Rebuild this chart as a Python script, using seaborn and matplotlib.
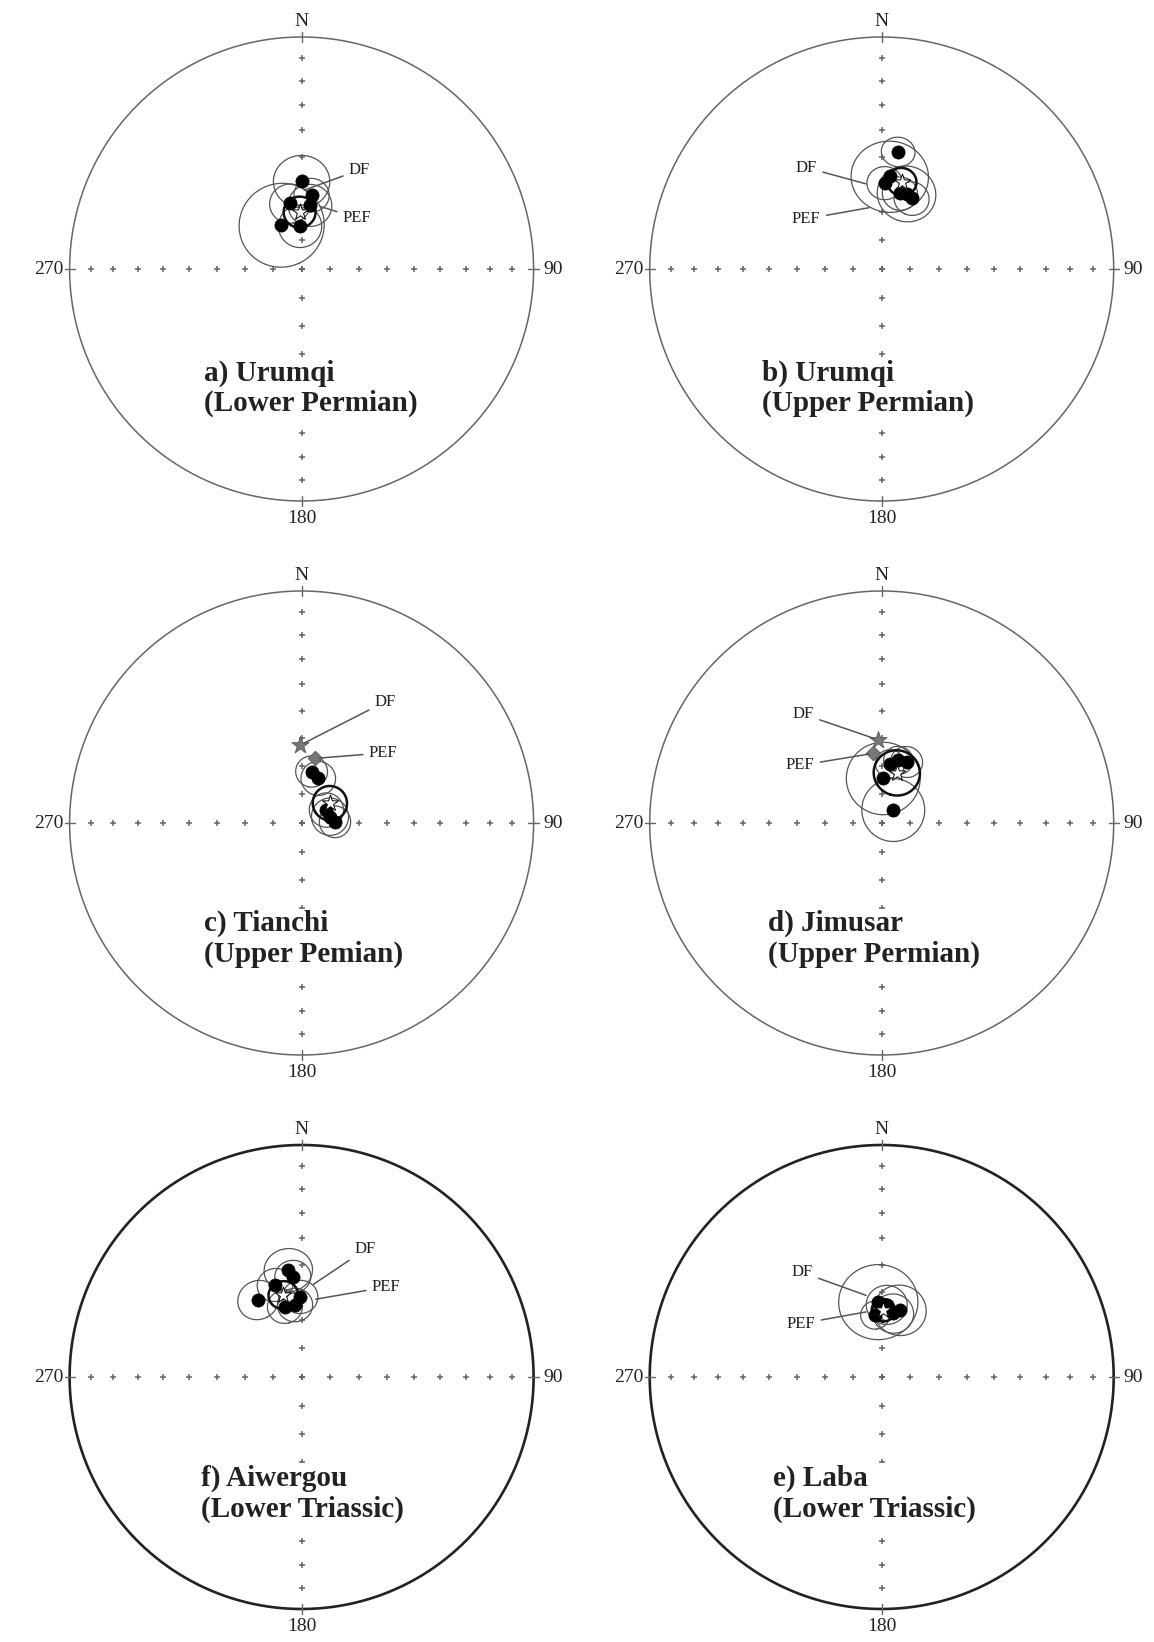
import numpy as np
import pandas as pd
import matplotlib
matplotlib.use('Agg')
import matplotlib.pyplot as plt
import seaborn as sns

# site means per locality: declination, inclination, a95 (degrees)
a_dec = [0, 335.5, 358, 350, 7.5, 7.7]
a_inc = [59, 73, 75, 66.6, 67.4, 63.7]
a_a95 = [9.5, 14.8, 7.5, 7, 7.5, 6]
a_mean = [358, 70, 5.5]
a_df = [359, 62.7]
a_pef = [13, 67]

b_dec = [8, 5, 13.6, 23, 18.3, 2]
b_inc = [47.7, 57, 62.6, 63, 62, 59.6]
b_a95 = [5.5, 13, 6, 6, 10, 6]
b_mean = [12.9, 58.3, 5]
b_df = [352, 60]
b_pef = [352, 68]

c_dec = [11, 20.5, 62.5, 77.5, 88]
c_inc = [71.6, 73.3, 80.2, 79.8, 78.3]
c_a95 = [5.5, 6, 6, 6.5, 5.5]
c_mean = [55, 77.9, 6]
c_df = [359, 62.5]
c_pef = [11.7, 66.8]

d_dec = [14.8, 22.2, 8, 2, 41.7]
d_inc = [67.2, 66.8, 69, 74.3, 83.9]
d_a95 = [5, 5.5, 5, 12.8, 11]
d_mean = [16.8, 71.6, 8]
d_df = [357.6, 60.6]
d_pef = [353, 65.3]

f_dec = [330.6, 352.9, 355, 343.9, 346.7, 354.8, 359]
f_inc = [58.7, 51.6, 54.2, 56, 64.5, 64.5, 61.7]
f_a95 = [7, 8, 6, 6, 6, 6, 6]
f_mean = [347.4, 60.3, 5]
f_df = [5.3, 57.9]
f_pef = [7.4, 62.6]

e_dec = [357.4, 4, 15.3, 10.3, 354]
e_inc = [63.4, 64.5, 65.6, 67.3, 68.1]
e_a95 = [13.5, 7, 9, 7, 5]
e_mean = [1.4, 66.5, 4]
e_df = [351.7, 61.4]
e_pef = [350, 66.5]

titles = ['a) Urumqi\n(Lower Permian)', 'b) Urumqi\n(Upper Permian)',
          'c) Tianchi\n(Upper Pemian)', 'd) Jimusar\n(Upper Permian)',
          'f) Aiwergou\n(Lower Triassic)', 'e) Laba\n(Lower Triassic)']


def proj(dec, inc):
    dec = np.radians(np.asarray(dec, float))
    inc = np.radians(np.asarray(inc, float))
    r = np.sqrt(2) * np.sin((np.pi / 2 - inc) / 2)
    return r * np.sin(dec), r * np.cos(dec)


def small_circle(dec, inc, a95, n=160):
    D, I = np.radians(dec), np.radians(inc)
    v = np.array([np.cos(I) * np.cos(D), np.cos(I) * np.sin(D), np.sin(I)])
    u1 = np.array([-np.sin(I) * np.cos(D), -np.sin(I) * np.sin(D), np.cos(I)])
    u2 = np.cross(v, u1)
    t = np.linspace(0, 2 * np.pi, n)
    a = np.radians(a95)
    p = np.cos(a) * v[:, None] + np.sin(a) * (np.cos(t) * u1[:, None] + np.sin(t) * u2[:, None])
    dd = np.degrees(np.arctan2(p[1], p[0]))
    ii = np.degrees(np.arcsin(np.clip(p[2], -1, 1)))
    return proj(dd, ii)


panels = [
    (a_dec, a_inc, a_a95, a_mean, a_df, a_pef),
    (b_dec, b_inc, b_a95, b_mean, b_df, b_pef),
    (c_dec, c_inc, c_a95, c_mean, c_df, c_pef),
    (d_dec, d_inc, d_a95, d_mean, d_df, d_pef),
    (f_dec, f_inc, f_a95, f_mean, f_df, f_pef),
    (e_dec, e_inc, e_a95, e_mean, e_df, e_pef),
]

# layout (pixels in the 1154x1642 figure)
W, H = 1154, 1642
R = 232.0
L = 1.2
centers = [(301.6, 269), (881.7, 269), (301.6, 823), (881.7, 823), (301.6, 1377), (881.7, 1377)]
df_xy = [(0.25, 0.427), (-0.325, 0.437), (0.361, 0.523), (-0.338, 0.469), (0.275, 0.55), (-0.343, 0.451)]
pef_xy = [(0.24, 0.22), (-0.325, 0.216), (0.352, 0.302), (-0.352, 0.248), (0.365, 0.388), (-0.348, 0.23)]
title_xy = [(-0.42, -0.515), (-0.514, -0.515), (-0.42, -0.5), (-0.49, -0.5), (-0.434, -0.503), (-0.469, -0.503)]
# DF / PEF symbols show clearly only in c) and d)
show_refs = [False, False, True, True, False, False]

sns.set_theme(style='white')
plt.rcParams['font.family'] = ['Liberation Serif', 'DejaVu Serif']

fig = plt.figure(figsize=(W / 100, H / 100), dpi=100)

tick_inc = np.arange(10, 91, 10)

for k, (dec, inc, a95, mean, dfp, pefp) in enumerate(panels):
    cx, cy = centers[k]
    size = 2 * L * R
    ax = fig.add_axes([(cx - size / 2) / W, (H - cy - size / 2) / H, size / W, size / H])
    ax.set_xlim(-L, L)
    ax.set_ylim(-L, L)
    ax.set_aspect('equal')
    ax.axis('off')

    bottom = k >= 4
    th = np.linspace(0, 2 * np.pi, 400)
    ax.plot(np.cos(th), np.sin(th), color='#222222' if bottom else '#666666',
            lw=1.9 if bottom else 1.1, zorder=1)

    # crosses along the axes
    tx, ty = [], []
    for az in (0, 90, 180, 270):
        x, y = proj(np.full(len(tick_inc), az), tick_inc)
        tx.extend(x)
        ty.extend(y)
    sns.scatterplot(x=tx, y=ty, marker='+', s=14, color='#666666', linewidth=1.1, ax=ax, zorder=1)
    for az in (0, 90, 180, 270):
        x0, y0 = proj([az, az], [2.5, -2.5])
        ax.plot(x0, y0, color='#666666', lw=1.0, zorder=1)

    ax.text(0, 1.065, 'N', ha='center', va='center', fontsize=14, color='#222222')
    ax.text(0, -1.075, '180', ha='center', va='center', fontsize=14, color='#222222')
    ax.text(-1.09, 0, '270', ha='center', va='center', fontsize=14, color='#222222')
    ax.text(1.085, 0, '90', ha='center', va='center', fontsize=14, color='#222222')

    # confidence circles
    for d, i, a in zip(dec, inc, a95):
        x, y = small_circle(d, i, a)
        ax.plot(x, y, color='#555555', lw=0.9, zorder=2)
    mx, my = small_circle(mean[0], mean[1], mean[2])
    ax.plot(mx, my, color='#111111', lw=1.8, zorder=3)

    sx, sy = proj(dec, inc)
    sites = pd.DataFrame({'x': sx, 'y': sy})
    sns.scatterplot(data=sites, x='x', y='y', s=90, color='black', edgecolor='black',
                    linewidth=0.5, ax=ax, zorder=4)

    px, py = proj([dfp[0]], [dfp[1]])
    qx, qy = proj([pefp[0]], [pefp[1]])
    if show_refs[k]:
        sns.scatterplot(x=px, y=py, marker='*', s=170, color='#777777', edgecolor='#555555',
                        linewidth=0.6, ax=ax, zorder=5)
        sns.scatterplot(x=qx, y=qy, marker='D', s=55, color='#777777', edgecolor='#555555',
                        linewidth=0.6, ax=ax, zorder=5)
    ax.annotate('DF', xy=(px[0], py[0]), xytext=df_xy[k], ha='center', va='center',
                fontsize=12, color='#222222',
                arrowprops=dict(arrowstyle='-', color='#555555', lw=1.1, shrinkA=2, shrinkB=3),
                zorder=6)
    ax.annotate('PEF', xy=(qx[0], qy[0]), xytext=pef_xy[k], ha='center', va='center',
                fontsize=12, color='#222222',
                arrowprops=dict(arrowstyle='-', color='#555555', lw=1.1, shrinkA=2, shrinkB=3),
                zorder=6)

    zx, zy = proj([mean[0]], [mean[1]])
    sns.scatterplot(x=zx, y=zy, marker='*', s=150, color='white', edgecolor='black',
                    linewidth=0.7, ax=ax, zorder=7)

    ax.text(title_xy[k][0], title_xy[k][1], titles[k], ha='left', va='center',
            fontsize=21, fontweight='bold', color='#222222', linespacing=1.15, zorder=8,
            bbox=dict(facecolor='white', edgecolor='none', pad=1))

fig.savefig('out.png', dpi=100)
